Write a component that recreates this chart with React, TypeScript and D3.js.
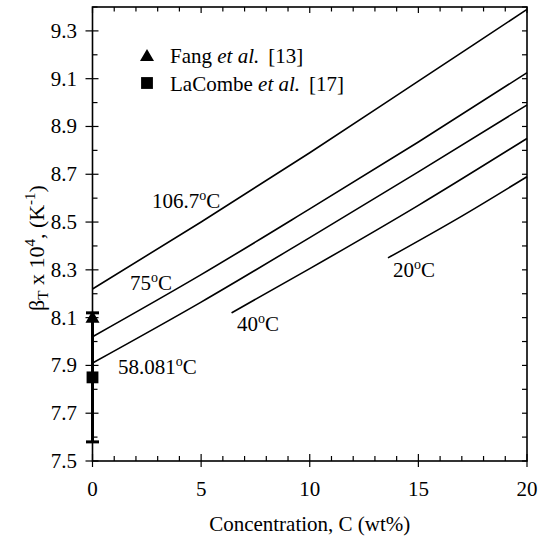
import React, { useEffect, useRef } from 'react';
import * as d3 from 'd3';

// curves (concentration wt%, beta_T x 10^4)
const concFull = [0, 5, 10, 15, 20];
const beta1067 = [8.22, 8.5, 8.79, 9.09, 9.39];
const beta75 = [8.02, 8.28, 8.555, 8.835, 9.125];
const beta58 = [7.91, 8.165, 8.435, 8.71, 8.99];
const conc40 = [6.4, 10, 15, 20];
const beta40 = [8.12, 8.305, 8.57, 8.85];
const conc20 = [13.6, 17, 20];
const beta20 = [8.35, 8.525, 8.69];

const curveLabels = ['106.7', '75', '58.081', '40', '20'];
const labelX = [2.74, 1.73, 1.17, 6.65, 13.83];
const labelY = [8.56, 8.216, 7.864, 8.044, 8.27];

// experimental points at C = 0
const fangValue = 8.1;
const lacombeValue = 7.85;
const lacombeErr = 0.27;

const xTicks = [0, 5, 10, 15, 20];
const yTicks = [7.5, 7.7, 7.9, 8.1, 8.3, 8.5, 8.7, 8.9, 9.1, 9.3];

const FONT = 'Liberation Serif, Times New Roman, DejaVu Serif, serif';

const App: React.FC = () => {
  const ref = useRef<SVGSVGElement | null>(null);

  useEffect(() => {
    if (!ref.current) return;
    const svg = d3.select(ref.current);
    svg.selectAll('*').remove();

    const x = d3.scaleLinear().domain([0, 20]).range([92.5, 527]);
    const y = d3.scaleLinear().domain([7.5, 9.4]).range([461, 7]);
    const [x0, x1] = x.range();
    const [y0, y1] = y.range();

    const g = svg.append('g').attr('stroke', '#000').attr('fill', 'none');

    // frame
    g.append('rect')
      .attr('x', x0).attr('y', y1)
      .attr('width', x1 - x0).attr('height', y0 - y1)
      .attr('stroke-width', 1.6);

    // x ticks (bottom and top)
    const xMinor = d3.range(0, 20.01, 1);
    xMinor.forEach(v => {
      const major = xTicks.includes(v);
      g.append('line')
        .attr('x1', x(v)).attr('x2', x(v))
        .attr('y1', major ? y0 + 6 : y0).attr('y2', y0 - (major ? 7 : 5))
        .attr('stroke-width', 1.2);
      g.append('line')
        .attr('x1', x(v)).attr('x2', x(v))
        .attr('y1', y1).attr('y2', y1 + (major ? 6 : 4.5))
        .attr('stroke-width', 1.2);
    });

    // y ticks (left and right)
    const yMinor = d3.range(7.5, 9.401, 0.1);
    yMinor.forEach(v => {
      const major = yTicks.some(t => Math.abs(t - v) < 1e-6);
      g.append('line')
        .attr('x1', major ? x0 - 7 : x0).attr('x2', x0 + (major ? 6 : 5))
        .attr('y1', y(v)).attr('y2', y(v))
        .attr('stroke-width', 1.2);
      g.append('line')
        .attr('x1', x1).attr('x2', x1 - 5)
        .attr('y1', y(v)).attr('y2', y(v))
        .attr('stroke-width', 1.2);
    });

    // text
    const txt = svg.append('g')
      .style('font-family', FONT)
      .attr('font-size', 21)
      .attr('fill', '#000');

    xTicks.forEach(v => {
      txt.append('text')
        .attr('x', x(v)).attr('y', 496)
        .attr('text-anchor', 'middle')
        .text(String(v));
    });
    yTicks.forEach(v => {
      txt.append('text')
        .attr('x', 77).attr('y', y(v) + 7)
        .attr('text-anchor', 'end')
        .text(v.toFixed(1));
    });

    // axis titles
    txt.append('text')
      .attr('x', (x0 + x1) / 2).attr('y', 531)
      .attr('text-anchor', 'middle')
      .text('Concentration, C (wt%)');

    const yt = txt.append('text')
      .attr('transform', 'translate(44,248) rotate(-90)')
      .attr('font-size', 22)
      .attr('text-anchor', 'middle');
    yt.append('tspan').text('β');
    yt.append('tspan').attr('font-size', 15).attr('dy', 4).text('T');
    yt.append('tspan').attr('dy', -4).text(' x 10');
    yt.append('tspan').attr('font-size', 15).attr('dy', -9).text('4');
    yt.append('tspan').attr('dy', 9).text(', (K');
    yt.append('tspan').attr('font-size', 15).attr('dy', -9).text('-1');
    yt.append('tspan').attr('dy', 9).text(')');

    // curves
    const line = d3.line<[number, number]>()
      .x(d => x(d[0]))
      .y(d => y(d[1]))
      .curve(d3.curveMonotoneX);

    const series: [number[], number[]][] = [
      [concFull, beta1067],
      [concFull, beta75],
      [concFull, beta58],
      [conc40, beta40],
      [conc20, beta20],
    ];
    series.forEach(([cs, bs]) => {
      g.append('path')
        .attr('d', line(cs.map((c, i) => [c, bs[i]] as [number, number])))
        .attr('stroke-width', 1.6);
    });

    curveLabels.forEach((lab, i) => {
      const t = txt.append('text')
        .attr('x', x(labelX[i])).attr('y', y(labelY[i]));
      t.append('tspan').text(lab);
      t.append('tspan').attr('font-size', 14).attr('dy', -8).text('o');
      t.append('tspan').attr('dy', 8).text('C');
    });

    // error bar + markers
    g.append('line')
      .attr('x1', x(0)).attr('x2', x(0))
      .attr('y1', y(lacombeValue - lacombeErr)).attr('y2', y(lacombeValue + lacombeErr))
      .attr('stroke-width', 3);
    [lacombeValue - lacombeErr, lacombeValue + lacombeErr].forEach(v => {
      g.append('line')
        .attr('x1', x(0) - 6.5).attr('x2', x(0) + 6.5)
        .attr('y1', y(v)).attr('y2', y(v))
        .attr('stroke-width', 3);
    });

    const tri = d3.symbol().type(d3.symbolTriangle).size(85);
    const sq = d3.symbol().type(d3.symbolSquare).size(140);

    svg.append('path')
      .attr('d', tri())
      .attr('transform', `translate(${x(0)},${y(fangValue) + 1})`)
      .attr('fill', '#000');
    svg.append('path')
      .attr('d', sq())
      .attr('transform', `translate(${x(0)},${y(lacombeValue)})`)
      .attr('fill', '#000');

    // legend
    svg.append('path')
      .attr('d', tri())
      .attr('transform', 'translate(147,57)')
      .attr('fill', '#000');
    svg.append('path')
      .attr('d', sq())
      .attr('transform', 'translate(147,83)')
      .attr('fill', '#000');

    const l1 = txt.append('text').attr('x', 170).attr('y', 63);
    l1.append('tspan').text('Fang ');
    l1.append('tspan').attr('font-style', 'italic').text('et al.');
    l1.append('tspan').attr('dx', 9).text('[13]');

    const l2 = txt.append('text').attr('x', 170).attr('y', 91);
    l2.append('tspan').text('LaCombe ');
    l2.append('tspan').attr('font-style', 'italic').text('et al.');
    l2.append('tspan').attr('dx', 9).text('[17]');
  }, []);

  return (
    <svg
      ref={ref}
      width={549}
      height={536}
      style={{ position: 'absolute', left: 0, top: 0, background: '#fff' }}
    />
  );
};

export default App;
